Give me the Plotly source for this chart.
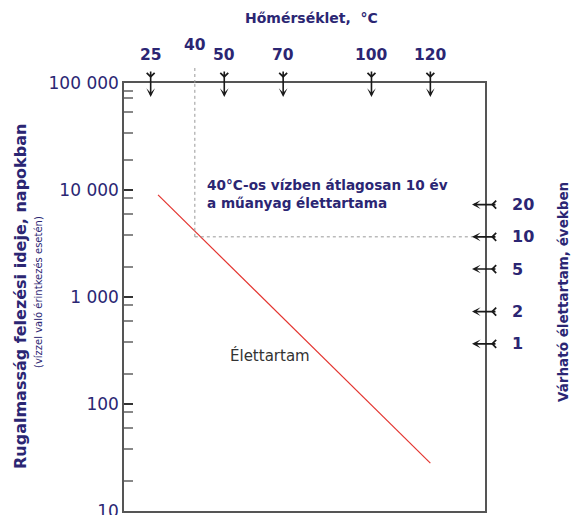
import numpy as np
import plotly.graph_objects as go

# ---- data ----
temp_labels = [25, 40, 50, 70, 100, 120]          # top temperature labels (°C)
arrow_temps = [25, 50, 70, 100, 120]              # temperatures marked with arrows
highlight_temp = 40                                # dotted reference temperature
years = [20, 10, 5, 2, 1]                          # right-hand lifetime marks (years)
days_per_year = 365
highlight_years = 10
y_tickvals = [10, 100, 1000, 10000, 100000]
y_ticktext = ["10", "100", "1 000", "10 000", "100 000"]
line_temps = [27.5, 120]                           # Élettartam line (°C)
line_days = [9000, 28]                             # Élettartam line (days)
x_range = [15.94, 138.56]
minor_first = [8.5, 7.3, 5.4, 3.4, 1.9]
minor_other = [8.4, 6.0, 3.8, 1.9]

# ---- layout geometry ----
W, H = 571, 515
L, R, T, B = 124, 86, 83, 4
PW, PH = W - L - R, H - T - B
def px_x(p):
    return (p - L) / PW
def px_y(p):
    return (H - B - p) / PH

navy = "#2b2673"
arrow_col = "#1a1a1a"
FONT = "DejaVu Sans"

minor_vals = [m * 1e4 for m in minor_first] + [m * 10 ** e for e in (3, 2, 1) for m in minor_other]

fig = go.Figure()
fig.add_trace(go.Scatter(x=line_temps, y=line_days, mode="lines",
                         line=dict(color="#e3342f", width=1.2),
                         hoverinfo="skip", showlegend=False))

hl_days = highlight_years * days_per_year
shapes = [
    dict(type="line", xref="x", yref="y", x0=highlight_temp, x1=highlight_temp,
         y0=hl_days, y1=y_tickvals[-1], line=dict(color="#999", width=1, dash="dot")),
    dict(type="line", xref="x", yref="paper", x0=highlight_temp, x1=highlight_temp,
         y0=1, y1=px_y(65), line=dict(color="#999", width=1, dash="dot")),
    dict(type="line", xref="x", yref="y", x0=highlight_temp, x1=x_range[1],
         y0=hl_days, y1=hl_days, line=dict(color="#999", width=1, dash="dot")),
]

C = dict(xanchor="center", yanchor="middle", showarrow=False)
ann = []
# title
ann.append(dict(text="<b>Hőmérséklet,  °C</b>", xref="paper", yref="paper",
                x=px_x(311), y=px_y(18), font=dict(family=FONT, size=14, color=navy), **C))
# top labels
for t in temp_labels:
    ypos = px_y(45) if t == highlight_temp else px_y(55)
    ann.append(dict(text=f"<b>{t}</b>", xref="x", yref="paper", x=t, y=ypos,
                    font=dict(family=FONT, size=15.5, color=navy), **C))
# top arrows
for t in arrow_temps:
    ann.append(dict(text="", xref="x", yref="paper", x=t, y=px_y(97),
                    ax=0, ay=-27, showarrow=True, arrowhead=3, arrowsize=0.9,
                    arrowwidth=1.6, arrowcolor=arrow_col))
    ann.append(dict(text="", xref="x", yref="paper", x=t, y=px_y(78),
                    ax=0, ay=-5, showarrow=True, arrowhead=4, arrowsize=0.9,
                    arrowwidth=1.7, arrowcolor=arrow_col))
# right arrows and labels
for yv in years:
    ly = np.log10(yv * days_per_year)
    ann.append(dict(text="", xref="paper", yref="y", x=px_x(472), y=ly,
                    ax=25, ay=0, showarrow=True, arrowhead=3, arrowsize=0.9,
                    arrowwidth=1.6, arrowcolor=arrow_col))
    ann.append(dict(text="", xref="paper", yref="y", x=px_x(491), y=ly,
                    ax=5, ay=0, showarrow=True, arrowhead=4, arrowsize=0.9,
                    arrowwidth=1.7, arrowcolor=arrow_col))
    ann.append(dict(text=f"<b>{yv}</b>", xref="paper", yref="y", x=px_x(510), y=ly,
                    xanchor="left", yanchor="middle", showarrow=False,
                    font=dict(family=FONT, size=16, color=navy)))
# side titles
ann.append(dict(text="<b>Rugalmasság felezési ideje, napokban</b>", xref="paper", yref="paper",
                x=0, xshift=20 - L, y=px_y(297), textangle=-90,
                font=dict(family=FONT, size=16, color=navy), **C))
ann.append(dict(text="(vízzel való érintkezés esetén)", xref="paper", yref="paper",
                x=0, xshift=38 - L, y=px_y(292), textangle=-90,
                font=dict(family=FONT, size=10, color=navy), **C))
ann.append(dict(text="<b>Várható élettartam, években</b>", xref="paper", yref="paper",
                x=px_x(563), y=px_y(292), textangle=-90,
                font=dict(family=FONT, size=13.5, color=navy), **C))
# in-plot notes
ann.append(dict(text="<b>40°C-os vízben átlagosan 10 év<br>a műanyag élettartama</b>",
                xref="paper", yref="paper", x=px_x(205), y=px_y(194), xanchor="left",
                yanchor="middle", align="left", showarrow=False,
                font=dict(family=FONT, size=13.6, color=navy)))
ann.append(dict(text="Élettartam", xref="paper", yref="paper", x=px_x(270), y=px_y(355),
                font=dict(family=FONT, size=15, color="#333"), **C))

fig.update_layout(
    width=W, height=H, margin=dict(l=L, r=R, t=T, b=B, autoexpand=False),
    paper_bgcolor="white", plot_bgcolor="white",
    shapes=shapes, annotations=ann,
    xaxis=dict(range=x_range, showline=True, mirror=True, linecolor="#555", linewidth=1.5,
               showticklabels=False, ticks="", showgrid=False, zeroline=False),
    yaxis=dict(type="log", range=[1, 5], tickmode="array", tickvals=y_tickvals, ticktext=y_ticktext,
               ticks="inside", ticklen=9, tickwidth=1.5, tickcolor="#333",
               showline=True, mirror=True, linecolor="#555", linewidth=1.5,
               showgrid=False, zeroline=False, ticklabeloverflow="allow",
               tickfont=dict(family=FONT, size=17, color=navy),
               minor=dict(tickmode="array", tickvals=minor_vals, ticks="inside", ticklen=9,
                          tickwidth=1.5, tickcolor="#888", showgrid=False)),
    showlegend=False,
)

fig.write_html("out.html", config={"displayModeBar": False},
               post_script="document.body.style.margin='0';document.body.style.overflow='hidden';")
